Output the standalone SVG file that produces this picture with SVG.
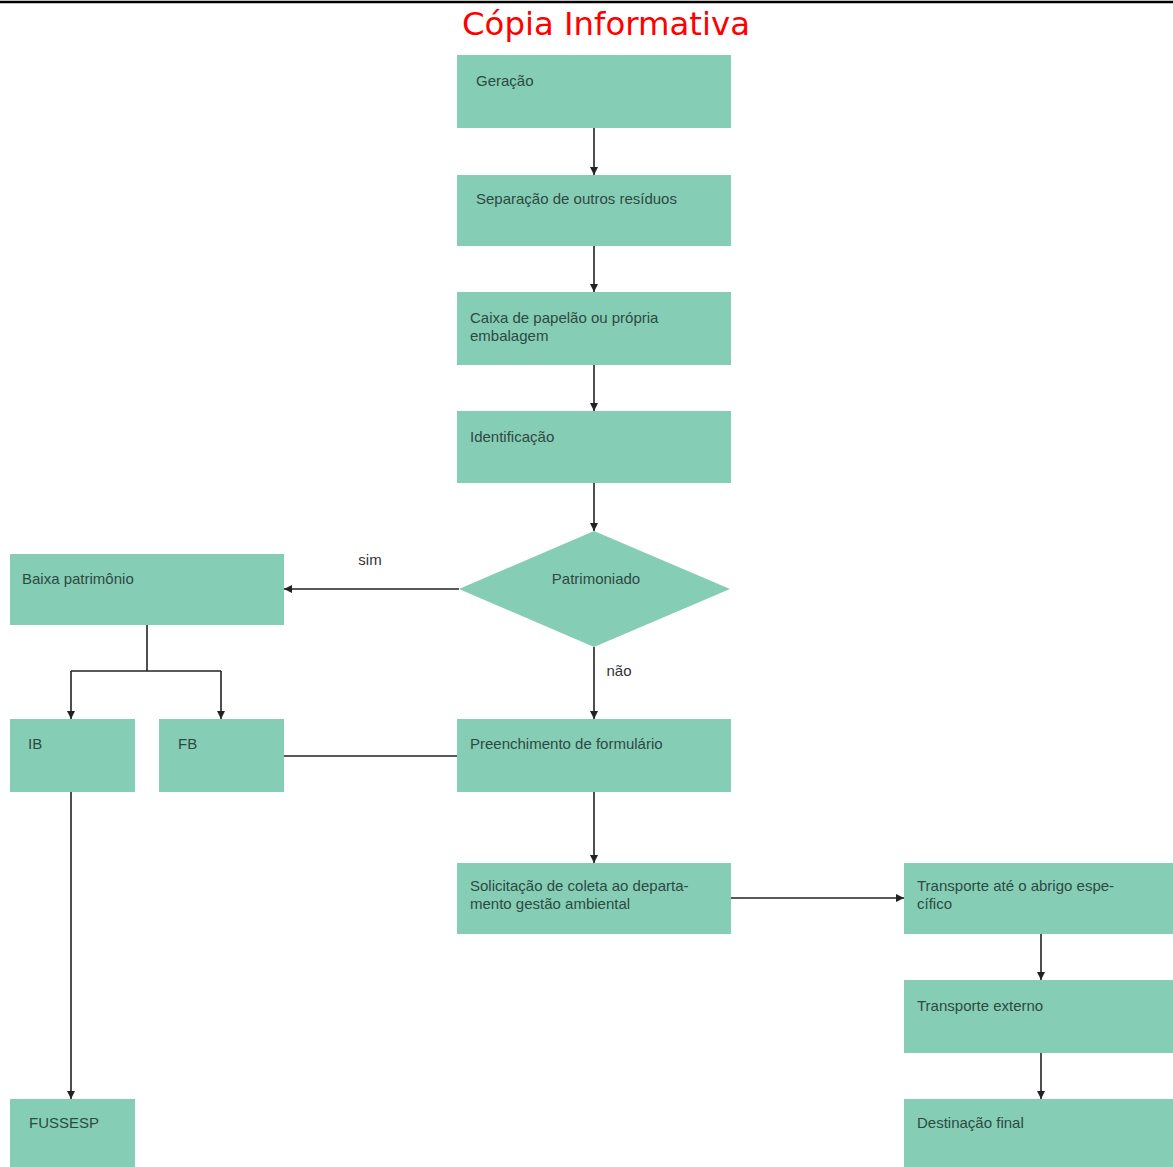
<svg xmlns="http://www.w3.org/2000/svg" width="1173" height="1167" viewBox="0 0 1173 1167">
<style>
.box{fill:#86cdb6}
.t{font-family:"Liberation Sans Narrow","Liberation Sans",Arial,sans-serif;font-size:15px;fill:#2d4a42}
.lbl{font-family:"Liberation Sans Narrow","Liberation Sans",Arial,sans-serif;font-size:15px;fill:#333}
.c{stroke:#222;stroke-width:1.6;fill:none}
</style>
<defs>
<marker id="ah" markerWidth="10" markerHeight="10" refX="9" refY="5" orient="auto" markerUnits="userSpaceOnUse">
<path d="M1,1 L9,5 L1,9 Z" fill="#222"/>
</marker>
</defs>
<rect width="1173" height="1167" fill="#fff"/>
<line x1="0" y1="2" x2="1173" y2="2" stroke="#000" stroke-width="2.5"/>
<text x="462" y="35" font-family="DejaVu Sans,sans-serif" font-size="32" textLength="288" lengthAdjust="spacingAndGlyphs" fill="#ff0000">Cópia Informativa</text>
<g id="n1"><rect class="box" x="457" y="55" width="274" height="73"/><text class="t" x="476" y="86">Geração</text></g>
<g id="n2"><rect class="box" x="457" y="175" width="274" height="71"/><text class="t" x="476" y="204">Separação de outros resíduos</text></g>
<g id="n3"><rect class="box" x="457" y="292" width="274" height="73"/><text class="t" x="470" y="323">Caixa de papelão ou própria</text><text class="t" x="470" y="341">embalagem</text></g>
<g id="n4"><rect class="box" x="457" y="411" width="274" height="72"/><text class="t" x="470" y="442">Identificação</text></g>
<g id="n5"><polygon class="box" points="594,531 730,589 594,647 459,589"/><text class="t" x="596" y="584" text-anchor="middle">Patrimoniado</text></g>
<g id="n6"><rect class="box" x="10" y="554" width="274" height="71"/><text class="t" x="22" y="584">Baixa patrimônio</text></g>
<g id="n7"><rect class="box" x="10" y="719" width="125" height="73"/><text class="t" x="28" y="749">IB</text></g>
<g id="n8"><rect class="box" x="159" y="719" width="125" height="73"/><text class="t" x="178" y="749">FB</text></g>
<g id="n9"><rect class="box" x="457" y="719" width="274" height="73"/><text class="t" x="470" y="749">Preenchimento de formulário</text></g>
<g id="n10"><rect class="box" x="457" y="863" width="274" height="71"/><text class="t" x="470" y="891">Solicitação de coleta ao departa-</text><text class="t" x="470" y="909">mento gestão ambiental</text></g>
<g id="n11"><rect class="box" x="904" y="863" width="269" height="71"/><text class="t" x="917" y="891">Transporte até o abrigo espe-</text><text class="t" x="917" y="909">cífico</text></g>
<g id="n12"><rect class="box" x="904" y="980" width="269" height="73"/><text class="t" x="917" y="1011">Transporte externo</text></g>
<g id="n13"><rect class="box" x="904" y="1099" width="269" height="68"/><text class="t" x="917" y="1128">Destinação final</text></g>
<g id="n14"><rect class="box" x="10" y="1099" width="125" height="68"/><text class="t" x="29" y="1128">FUSSESP</text></g>
<g id="connectors">
<path class="c" d="M594,128 V175" marker-end="url(#ah)"/>
<path class="c" d="M594,246 V292" marker-end="url(#ah)"/>
<path class="c" d="M594,365 V411" marker-end="url(#ah)"/>
<path class="c" d="M594,483 V531" marker-end="url(#ah)"/>
<path class="c" d="M459,589 H284" marker-end="url(#ah)"/>
<text class="lbl" x="370" y="565" text-anchor="middle">sim</text>
<path class="c" d="M594,647 V719" marker-end="url(#ah)"/>
<text class="lbl" x="619" y="676" text-anchor="middle">não</text>
<path class="c" d="M147,625 V671"/>
<path class="c" d="M71,671 H221"/>
<path class="c" d="M71,671 V719" marker-end="url(#ah)"/>
<path class="c" d="M221,671 V719" marker-end="url(#ah)"/>
<path class="c" d="M284,756 H457"/>
<path class="c" d="M594,792 V863" marker-end="url(#ah)"/>
<path class="c" d="M731,898 H904" marker-end="url(#ah)"/>
<path class="c" d="M1041,934 V980" marker-end="url(#ah)"/>
<path class="c" d="M1041,1053 V1099" marker-end="url(#ah)"/>
<path class="c" d="M71,792 V1099" marker-end="url(#ah)"/>
</g>
</svg>
